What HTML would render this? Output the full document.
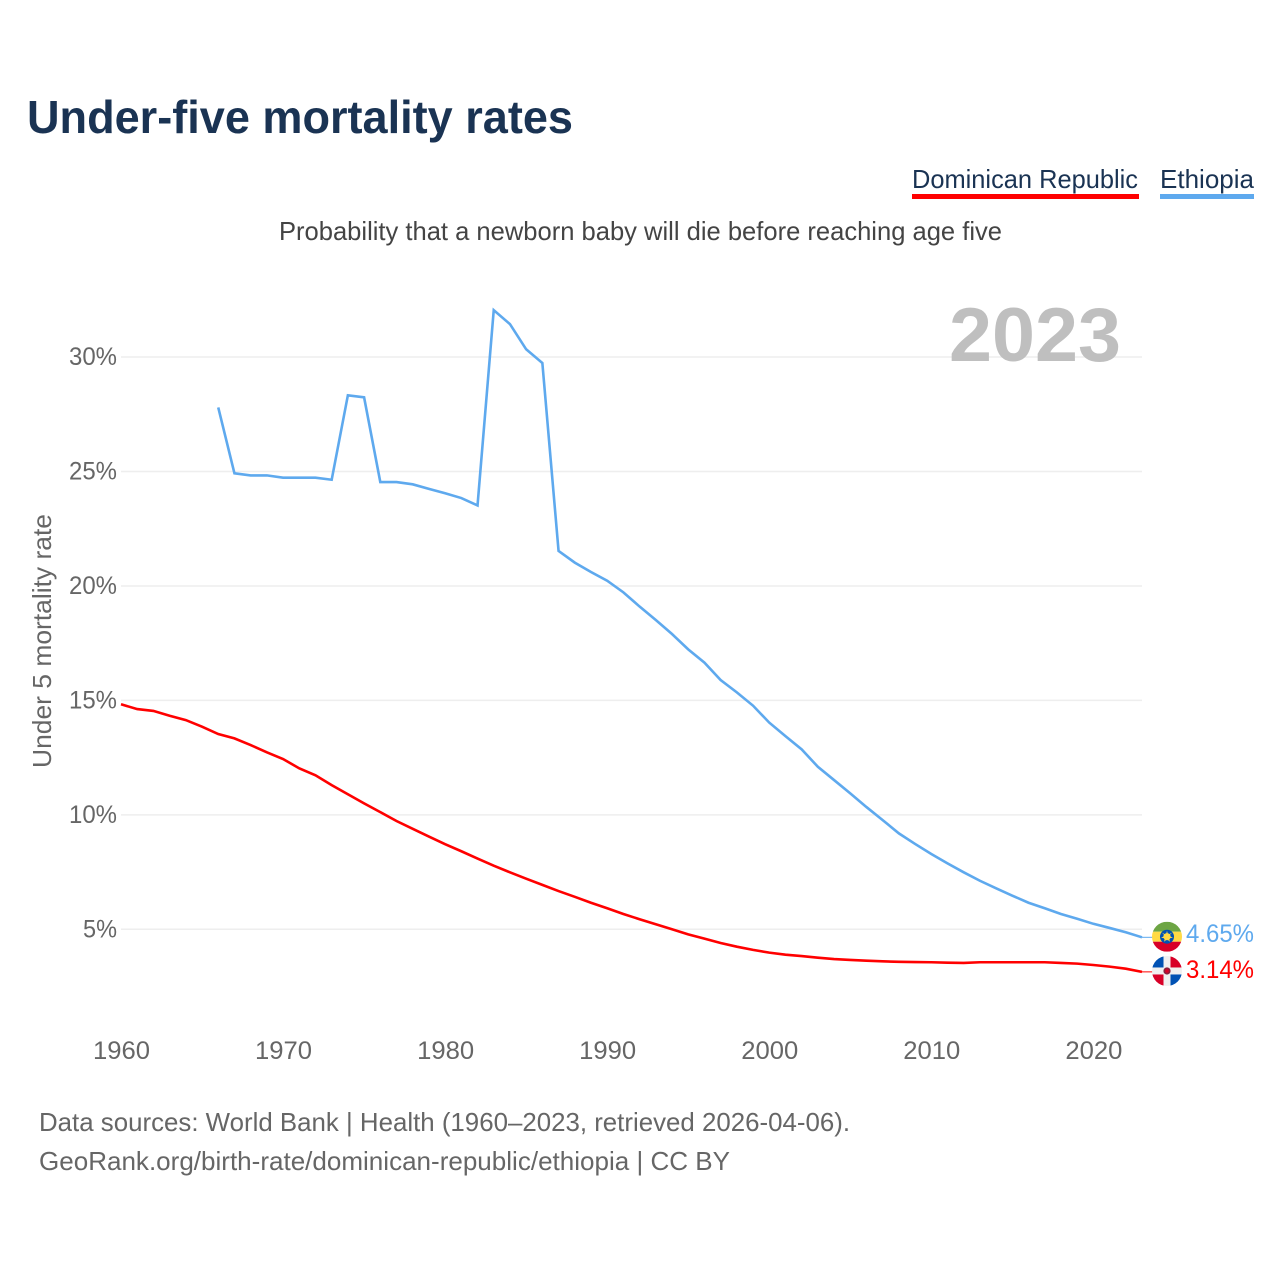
<!DOCTYPE html>
<html lang="en">
<head>
<meta charset="utf-8">
<title>Under-five mortality rates</title>
<style>
html,body{margin:0;padding:0;background:#fff;}
svg{display:block;font-family:"Liberation Sans",sans-serif;}
</style>
</head>
<body>
<svg id="chart" xmlns="http://www.w3.org/2000/svg" width="1280" height="1280" viewBox="0 0 1280 1280">
  <rect width="1280" height="1280" fill="#fff"/>
  <text x="27" y="133" font-size="46" font-weight="700" fill="#1a3353" textLength="546" lengthAdjust="spacingAndGlyphs">Under-five mortality rates</text>
  <g>
    <text x="912" y="188" font-size="26" fill="#1a3353" textLength="226" lengthAdjust="spacingAndGlyphs">Dominican Republic</text>
    <rect x="912" y="194" width="227" height="5" fill="#ff0000"/>
  </g>
  <g>
    <text x="1160" y="188" font-size="26" fill="#1a3353" textLength="94" lengthAdjust="spacingAndGlyphs">Ethiopia</text>
    <rect x="1160" y="194" width="94" height="5" fill="#5ea9ee"/>
  </g>
  <text x="279" y="240" font-size="26" fill="#444" textLength="723" lengthAdjust="spacingAndGlyphs">Probability that a newborn baby will die before reaching age five</text>
  <g id="grid"></g>
  <text x="949" y="361" font-size="76" font-weight="700" fill="#bfbfbf" textLength="172" lengthAdjust="spacingAndGlyphs">2023</text>
  <text x="0" y="0" transform="translate(51 768) rotate(-90)" font-size="26" fill="#666" textLength="254" lengthAdjust="spacingAndGlyphs">Under 5 mortality rate</text>
  <g id="yTicks"></g>
  <g id="xTicks"></g>
  <g id="series"></g>
  <defs>
    <clipPath id="flagClip"><circle cx="0" cy="0" r="15"/></clipPath>
  </defs>
  <g id="flagEt">
    <g clip-path="url(#flagClip)">
      <rect x="-15" y="-15" width="30" height="10" fill="#6da544"/>
      <rect x="-15" y="-5" width="30" height="10" fill="#ffda44"/>
      <rect x="-15" y="5" width="30" height="10" fill="#d80027"/>
      <circle r="7" fill="#0052b4"/>
      <circle r="3.6" fill="#ffda44"/>
      <path d="M0-6L1-2 5-4 2-1 6 1 2 1.500 3 5 0 2.500-3 5-2 1.500-6 1-2-1-5-4-1-2Z" fill="#ffda44"/>
    </g>
  </g>
  <g id="flagDo">
    <g clip-path="url(#flagClip)">
      <rect x="-15" y="-15" width="30" height="30" fill="#f0f0f0"/>
      <rect x="-15" y="-15" width="11.500" height="11.500" fill="#0052b4"/>
      <rect x="3.500" y="-15" width="11.500" height="11.500" fill="#d80027"/>
      <rect x="-15" y="3.500" width="11.500" height="11.500" fill="#d80027"/>
      <rect x="3.500" y="3.500" width="11.500" height="11.500" fill="#0052b4"/>
      <circle r="3.6" fill="#8a1f3d"/>
      <circle r="1.8" fill="#d80027"/>
    </g>
  </g>
  <text id="labelEt" x="1186" font-size="25" fill="#5ea9ee" textLength="68" lengthAdjust="spacingAndGlyphs"></text>
  <text id="labelDo" x="1186" font-size="25" fill="#ff0000" textLength="68" lengthAdjust="spacingAndGlyphs"></text>
  <text x="39" y="1131" font-size="26" fill="#666" textLength="811" lengthAdjust="spacingAndGlyphs">Data sources: World Bank | Health (1960–2023, retrieved 2026-04-06).</text>
  <text x="39" y="1170" font-size="26" fill="#666" textLength="691" lengthAdjust="spacingAndGlyphs">GeoRank.org/birth-rate/dominican-republic/ethiopia | CC BY</text>
</svg>
<script>
const xTickYears = [1960, 1970, 1980, 1990, 2000, 2010, 2020];
const yTickValues = [5, 10, 15, 20, 25, 30];
const startYearDominican = 1960;
const startYearEthiopia = 1966;
const dominicanValues = [14.83,14.62,14.54,14.33,14.14,13.85,13.53,13.34,13.05,12.73,12.44,12.03,11.73,11.30,10.90,10.50,10.12,9.73,9.39,9.05,8.72,8.41,8.09,7.78,7.49,7.21,6.94,6.67,6.42,6.16,5.92,5.67,5.44,5.22,5.00,4.78,4.59,4.40,4.24,4.10,3.98,3.89,3.83,3.76,3.70,3.66,3.63,3.60,3.58,3.57,3.56,3.54,3.53,3.56,3.56,3.56,3.56,3.56,3.53,3.50,3.44,3.37,3.28,3.14];
const ethiopiaValues = [27.80,24.92,24.83,24.83,24.73,24.73,24.73,24.64,28.33,28.24,24.54,24.54,24.44,24.24,24.05,23.84,23.52,32.05,31.44,30.34,29.74,21.53,21.02,20.61,20.23,19.72,19.10,18.51,17.90,17.23,16.65,15.89,15.35,14.77,14.03,13.44,12.86,12.10,11.52,10.94,10.34,9.77,9.19,8.73,8.29,7.88,7.49,7.12,6.79,6.47,6.16,5.92,5.67,5.46,5.24,5.06,4.87,4.65];

const NS = 'http://www.w3.org/2000/svg';
function xScale(year) { return 121 + (year - 1960) * 16.206; }
function yScale(v) { return 929.3 - (v - 5) * 22.89; }
function make(tag, attrs, parent) {
  const el = document.createElementNS(NS, tag);
  for (const k in attrs) el.setAttribute(k, attrs[k]);
  parent.appendChild(el);
  return el;
}

const grid = document.getElementById('grid');
const yTicks = document.getElementById('yTicks');
const xTicks = document.getElementById('xTicks');
const series = document.getElementById('series');

yTickValues.forEach(function (v) {
  const line = make('line', {x1: 121, x2: 1142, y1: yScale(v), y2: yScale(v), stroke: '#eeeeee', 'stroke-width': 1.5}, grid);
  
  
  const s = v + '%';
  const w = s.length === 3 ? 48 : 34;
  const t = make('text', {x: 117 - w, y: yScale(v) + 8, 'font-size': 25, fill: '#666', textLength: w, lengthAdjust: 'spacingAndGlyphs'}, yTicks);
  t.textContent = s;
  
  
});

xTickYears.forEach(function (yr) {
  const t = make('text', {x: xScale(yr) - 28, y: 1059, 'font-size': 25, fill: '#666', textLength: 57, lengthAdjust: 'spacingAndGlyphs'}, xTicks);
  t.textContent = yr;
  
  
});

function drawSeries(values, startYear, color, name) {
  const pts = values.map(function (v, i) {
    return xScale(startYear + i).toFixed(2) + ',' + yScale(v).toFixed(2);
  }).join(' ');
  const line = make('polyline', {points: pts, fill: 'none', stroke: color, 'stroke-width': 2.6, 'stroke-linejoin': 'miter'}, series);
  
  
  const lastY = yScale(values[values.length - 1]);
  const lastX = xScale(startYear + values.length - 1);
  const conn = make('line', {x1: lastX, x2: 1153, y1: lastY, y2: lastY, stroke: color, 'stroke-width': 1}, series);
  
  
  return lastY;
}

const etY = drawSeries(ethiopiaValues, startYearEthiopia, '#5ea9ee', 'ethiopia-line');
const doY = drawSeries(dominicanValues, startYearDominican, '#ff0000', 'dominican-republic-line');

document.getElementById('flagEt').setAttribute('transform', 'translate(1167 ' + (etY - 0.6) + ')');
document.getElementById('flagDo').setAttribute('transform', 'translate(1167 ' + (doY - 0.9) + ')');
const labelEt = document.getElementById('labelEt');
labelEt.setAttribute('y', etY + 4.7);
labelEt.textContent = ethiopiaValues[ethiopiaValues.length - 1].toFixed(2) + '%';
const labelDo = document.getElementById('labelDo');
labelDo.setAttribute('y', doY + 6);
labelDo.textContent = dominicanValues[dominicanValues.length - 1].toFixed(2) + '%';
</script>
</body>
</html>
